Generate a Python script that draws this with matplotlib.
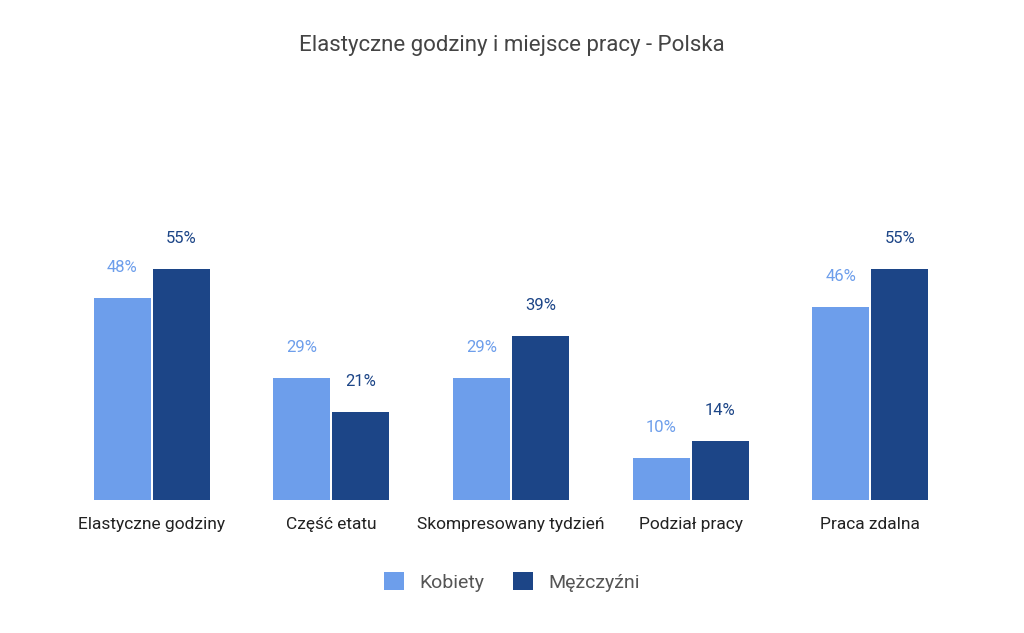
import numpy as np
import matplotlib.pyplot as plt

plt.rcParams['font.family'] = 'Roboto'

categories = ['Elastyczne godziny', 'Część etatu', 'Skompresowany tydzień', 'Podział pracy', 'Praca zdalna']
kobiety = [48, 29, 29, 10, 46]
mezczyzni = [55, 21, 39, 14, 55]

c1 = '#6d9eeb'
c2 = '#1c4587'

fig = plt.figure(figsize=(10.24, 6.33), dpi=100)
ax = fig.add_axes([62/1024, 133/633, 898/1024, 336/633])

x = np.arange(len(categories))
w = 0.317
b1 = ax.bar(x - w/2 - 0.006, kobiety, width=w, color=c1, label='Kobiety')
b2 = ax.bar(x + w/2 + 0.006, mezczyzni, width=w, color=c2, label='Mężczyźni')

for bars, vals, c in [(b1, kobiety, c1), (b2, mezczyzni, c2)]:
    for b, v in zip(bars, vals):
        ax.text(b.get_x() + b.get_width()/2, v + 5.5, f'{v}%', ha='center', va='bottom',
                color=c, fontsize=12)

ax.set_xlim(-0.5, 4.5)
ax.set_ylim(0, 80)
ax.set_yticks([])
ax.set_xticks(x)
ax.set_xticklabels(categories, fontsize=12.5, color='#222222')
ax.tick_params(axis='x', length=0, pad=12)
for s in ax.spines.values():
    s.set_visible(False)

fig.text(0.5, 1 - 45/633, 'Elastyczne godziny i miejsce pracy - Polska', ha='center', va='center',
         fontsize=16, color='#444444')
fig.legend(loc='center', bbox_to_anchor=(0.5, 1 - 582/633), ncol=2, frameon=False,
           fontsize=14, handlelength=1.0, handleheight=1.0, columnspacing=1.5,
           labelcolor='#555555')

fig.savefig('out.png', dpi=100)
